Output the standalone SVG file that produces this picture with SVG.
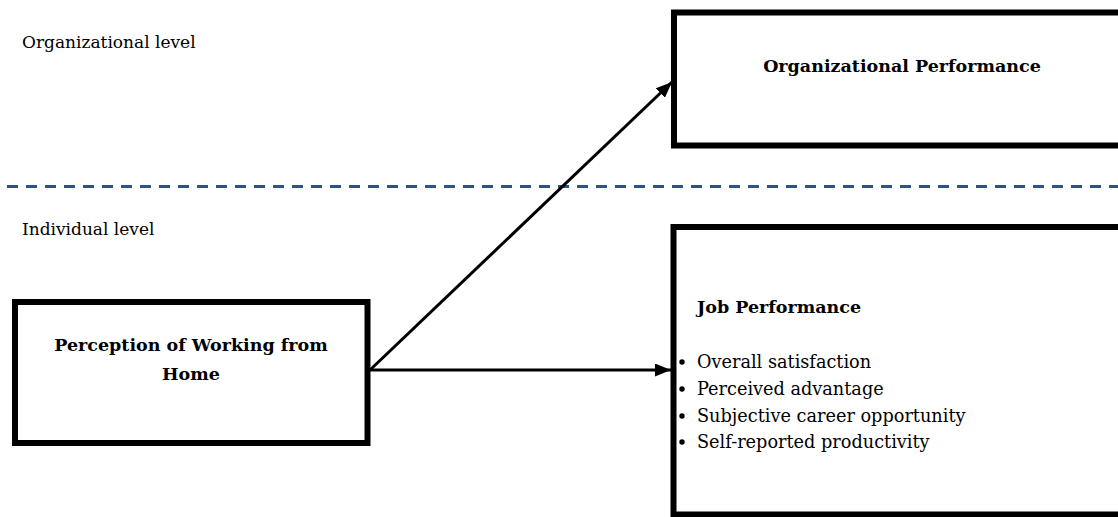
<svg xmlns="http://www.w3.org/2000/svg" width="1118" height="517" viewBox="0 0 1118 517">
  <style>
    text { font-family: "DejaVu Serif", "Liberation Serif", serif; fill: #000; }
    .lvl { font-size: 17px; }
    .title { font-size: 17.5px; font-weight: bold; }
    .item { font-size: 17.7px; }
    .box { fill: #fff; stroke: #000; stroke-width: 6; }
    .conn { stroke: #000; stroke-width: 3; fill: none; }
    .divider { stroke: #2E5186; stroke-width: 3; stroke-dasharray: 11 8; }
  </style>
  <defs>
    <marker id="arrow" viewBox="0 0 16 13" refX="16" refY="6.5" markerWidth="16" markerHeight="13" markerUnits="userSpaceOnUse" orient="auto">
      <path d="M0,0 L16,6.5 L0,13 Z" fill="#000"/>
    </marker>
  </defs>

  <!-- level labels and divider -->
  <text class="lvl" x="22" y="48">Organizational level</text>
  <line class="divider" x1="7" y1="186.5" x2="1118" y2="186.5"/>
  <text class="lvl" x="22" y="235">Individual level</text>

  <g id="org-performance">
    <rect class="box" x="674" y="12.5" width="460" height="133"/>
    <text class="title" x="902" y="72" text-anchor="middle">Organizational Performance</text>
  </g>

  <g id="wfh-perception">
    <rect class="box" x="15" y="302" width="352.5" height="141"/>
    <text class="title" x="191" y="351" text-anchor="middle">Perception of Working from</text>
    <text class="title" x="191" y="380" text-anchor="middle">Home</text>
  </g>

  <g id="job-performance">
    <rect class="box" x="673.5" y="227" width="460" height="287.5"/>
    <text class="title" x="697" y="313">Job Performance</text>
    <circle cx="682" cy="362" r="2.7"/>
    <text class="item" x="697" y="368">Overall satisfaction</text>
    <circle cx="682" cy="389" r="2.7"/>
    <text class="item" x="697" y="395">Perceived advantage</text>
    <circle cx="682" cy="416" r="2.7"/>
    <text class="item" x="697" y="422">Subjective career opportunity</text>
    <circle cx="682" cy="442" r="2.7"/>
    <text class="item" x="697" y="448">Self-reported productivity</text>
  </g>

  <g id="connectors">
    <line class="conn" x1="370" y1="370" x2="672" y2="82" marker-end="url(#arrow)"/>
    <line class="conn" x1="370" y1="370" x2="671" y2="370" marker-end="url(#arrow)"/>
  </g>
</svg>
